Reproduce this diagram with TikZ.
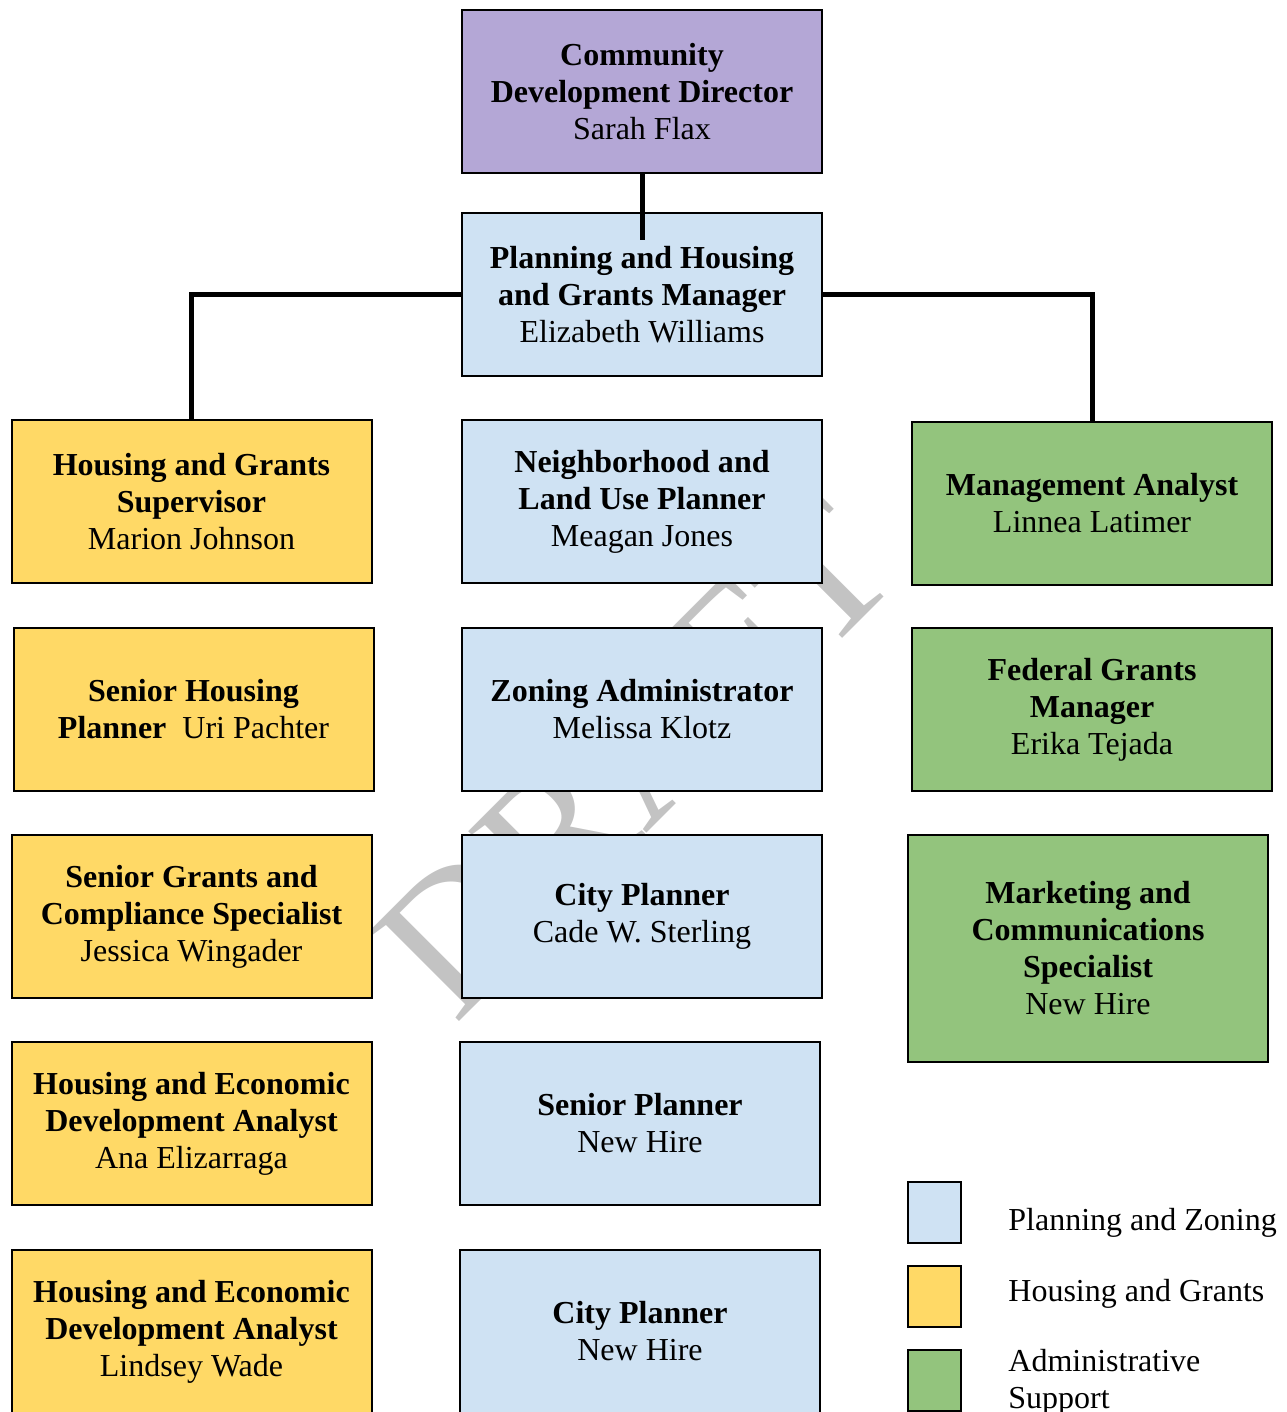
\documentclass[tikz,border=0pt]{standalone}
\usepackage{fontspec}
\setmainfont{Liberation Serif}
\definecolor{purp}{HTML}{B4A7D6}
\definecolor{pblue}{HTML}{CFE2F3}
\definecolor{hyel}{HTML}{FFD966}
\definecolor{agrn}{HTML}{93C47D}
\definecolor{wmark}{HTML}{C3C3C3}
\tikzset{
  orgbox/.style={draw=black, line width=1pt, minimum width=180pt, minimum height=81.5pt,
    inner sep=0pt, align=center, font=\fontsize{16}{18.5}\selectfont},
  pz/.style={orgbox, fill=pblue},
  hg/.style={orgbox, fill=hyel},
  ad/.style={orgbox, fill=agrn},
  legsq/.style={draw=black, line width=1pt, minimum width=26.5pt, minimum height=30.5pt, inner sep=0pt},
  legtxt/.style={anchor=west, inner sep=0pt, align=left, font=\fontsize{16}{18.5}\selectfont},
  conn/.style={line width=2.5pt, black}
}
\begin{document}
\begin{tikzpicture}[x=0.5pt,y=-0.5pt]
\useasboundingbox (0,0) rectangle (1286,1412);
\clip (0,0) rectangle (1286,1412);
% watermark
\node[rotate=45, inner sep=0pt, text=wmark, font=\fontsize{97}{97}\selectfont] (wm) at (635,755) {DRAFT};
% boxes
\node[orgbox, fill=purp] (dir) at (642,91.5) {\textbf{Community}\\\textbf{Development Director}\\Sarah Flax};
\node[pz] (mgr) at (642,294.5) {\textbf{Planning and Housing}\\\textbf{and Grants Manager}\\Elizabeth Williams};
\node[hg] (hgs) at (191.5,501.5) {\textbf{Housing and Grants}\\\textbf{Supervisor}\\Marion Johnson};
\node[hg] (shp) at (193.5,709.5) {\textbf{Senior Housing}\\\textbf{Planner}\ \ Uri Pachter};
\node[hg] (sgc) at (191.5,916.5) {\textbf{Senior Grants and}\\\textbf{Compliance Specialist}\\Jessica Wingader};
\node[hg] (ana) at (191.5,1123.5) {\textbf{Housing and Economic}\\\textbf{Development Analyst}\\Ana Elizarraga};
\node[hg] (lw) at (191.5,1331.5) {\textbf{Housing and Economic}\\\textbf{Development Analyst}\\Lindsey Wade};
\node[pz] (nlu) at (642,501.5) {\textbf{Neighborhood and}\\\textbf{Land Use Planner}\\Meagan Jones};
\node[pz] (za) at (642,709.5) {\textbf{Zoning Administrator}\\Melissa Klotz};
\node[pz] (cp1) at (642,916.5) {\textbf{City Planner}\\Cade W. Sterling};
\node[pz] (sp) at (640,1123.5) {\textbf{Senior Planner}\\New Hire};
\node[pz] (cp2) at (640,1331.5) {\textbf{City Planner}\\New Hire};
\node[ad] (ma) at (1092,503.5) {\textbf{Management Analyst}\\Linnea Latimer};
\node[ad] (fgm) at (1092,709.5) {\textbf{Federal Grants}\\\textbf{Manager}\\Erika Tejada};
\node[ad, minimum height=113.5pt] (mkt) at (1088,948.5) {\textbf{Marketing and}\\\textbf{Communications}\\\textbf{Specialist}\\New Hire};
% legend
\node[legsq, fill=pblue] (l1) at (934.5,1212.5) {};
\node[legsq, fill=hyel] (l2) at (934.5,1296.5) {};
\node[legsq, fill=agrn] (l3) at (934.5,1380.5) {};
\node[legtxt] (t1) at (1008,1223) {Planning and Zoning};
\node[legtxt] (t2) at (1008,1294) {Housing and Grants};
\node[legtxt, anchor=north west] (t3) at (1008,1349) {Administrative\\Support};
% connectors
\coordinate (mgrin) at (642,240);
\draw[conn] (dir.south) -- (mgrin);
\draw[conn] (mgr.west) -| (hgs.north);
\draw[conn] (mgr.east) -| (ma.north);
\end{tikzpicture}
\end{document}
